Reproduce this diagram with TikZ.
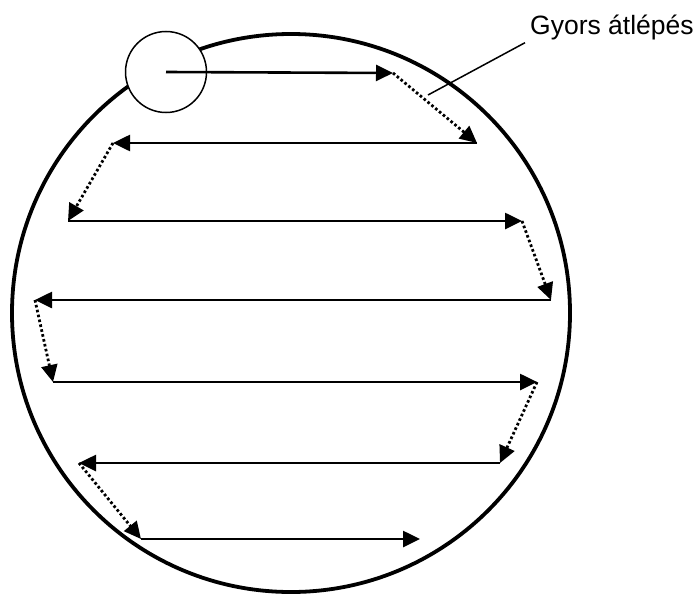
\documentclass[tikz,border=0pt]{standalone}
\usepackage{fontspec}
\setmainfont{Liberation Sans}
\usetikzlibrary{arrows.meta,positioning}

\begin{document}
\begin{tikzpicture}[x=1pt,y=-1pt,
    pass/.style={line width=2.6pt,-{Triangle[length=17pt,width=16pt]}},
    hop/.style={line width=2.8pt,dash pattern=on 2.6pt off 2.4pt,
      -{Triangle[length=17pt,width=16pt]}}]
  \useasboundingbox (0,0) rectangle (700,597);
  %% Wafer outline and starting spot.
  \draw[line width=3.8pt] (291,313) circle (279pt);
  \node[circle,draw,fill=white,line width=1.5pt,minimum size=81pt,inner sep=0pt] (start) at (166,72) {};

  %% Turning points of the scan, row by row.
  \path \foreach \name/\pos in {r1/{393,73},l1/{477,143},r2/{113,143},l2/{68,221},
      r3/{522,221},l3/{551,300},r4/{35,300},l4/{53,382},r5/{537,382},
      l5/{500,463},r6/{79,463},l6/{141,539},r7/{420,539}} {
    (\pos) coordinate (\name)
  };

  % Exposed rows.
  \draw[pass] (start.center) -- (r1);
  \foreach \a/\b in {l1/r2,l2/r3,l3/r4,l4/r5,l5/r6,l6/r7} {
    \draw[pass] (\a) -- (\b);
  }
  % Fast steps between rows.
  \foreach \a/\b in {r1/l1,r2/l2,r3/l3,r4/l4,r5/l5,r6/l6} {
    \draw[hop] (\a) -- (\b);
  }

  % Label.
  \node[anchor=base west,inner sep=0pt,font=\fontsize{26.5}{31}\selectfont] (fast) at (530,34) {Gyors átlépés};
  \coordinate (lead) at (428,95);
  \draw[line width=1.5pt] ([xshift=-5pt,yshift=-3pt]fast.south west) -- (lead);
\end{tikzpicture}
\end{document}
